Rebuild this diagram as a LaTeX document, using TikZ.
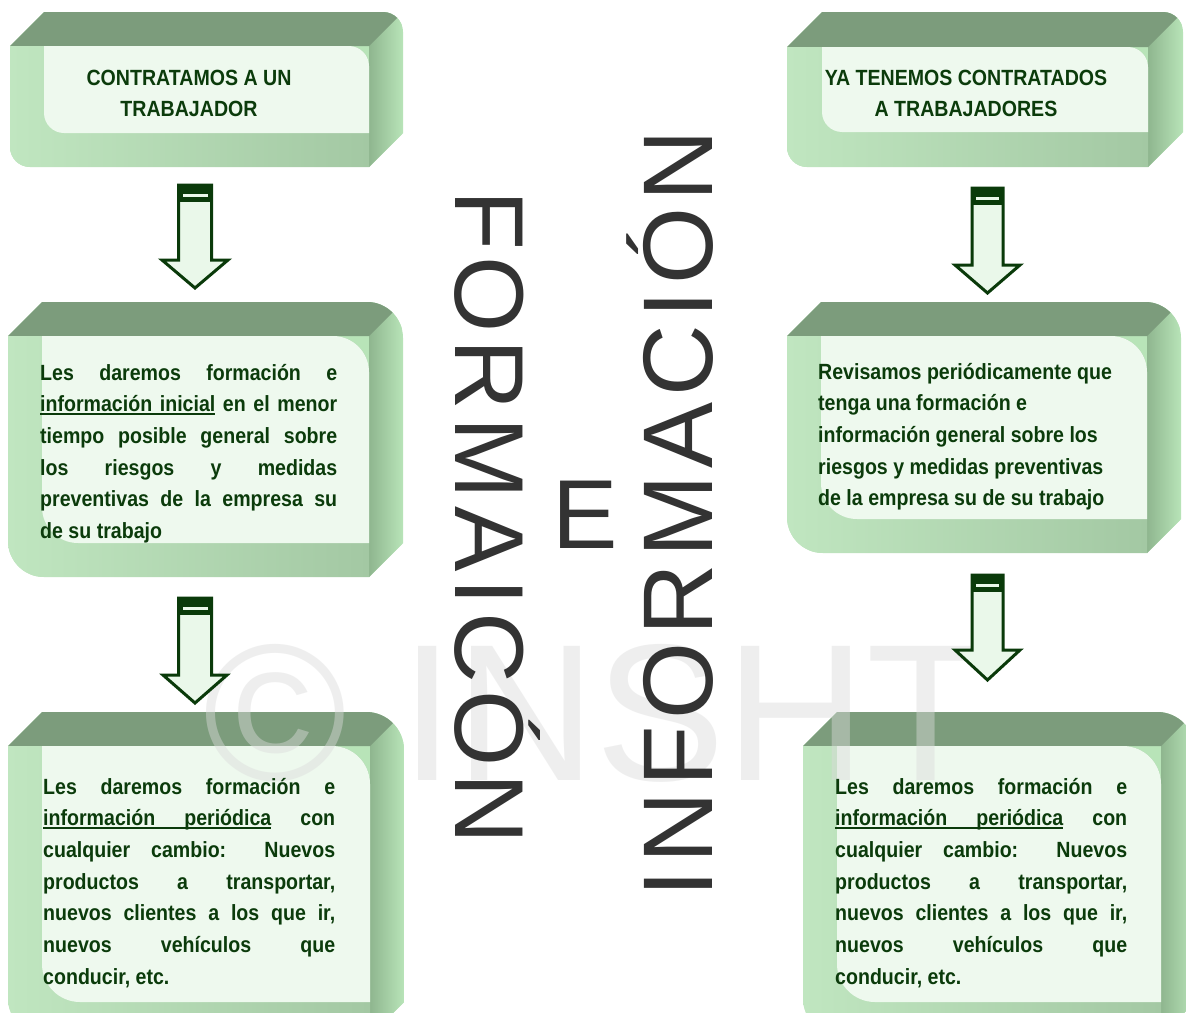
\documentclass[tikz,border=0pt]{standalone}
\usepackage{fontspec}
\setmainfont{Liberation Sans}
\newfontfamily\bodyfont{Liberation Sans}[FakeStretch=0.89]
\newfontfamily\vfont{Liberation Sans}[LetterSpace=7]
\newfontfamily\vfontb{Liberation Sans}[LetterSpace=6.5]
\usetikzlibrary{calc}
\definecolor{topface}{HTML}{7C9C7C}
\definecolor{sideL}{HTML}{8FB68F}
\definecolor{sideR}{HTML}{B8E4B8}
\definecolor{frontL}{HTML}{C0E6C0}
\definecolor{frontR}{HTML}{A3C8A3}
\definecolor{panelc}{HTML}{EEF9EE}
\definecolor{txtc}{HTML}{0B3B0B}
\definecolor{arrdark}{HTML}{0A3A0A}
\definecolor{arrfill}{HTML}{EAF8EA}
\definecolor{vtext}{HTML}{333333}
\newsavebox\ulbox
\newcommand\ulw[1]{\sbox\ulbox{#1}\rlap{\vrule height -1.6pt depth 3.4pt width \wd\ulbox}\usebox\ulbox}
\newcommand\ulsp{\leaders\hrule height -1.6pt depth 3.4pt\hskip\fontdimen2\font plus\fontdimen3\font minus\fontdimen4\font\relax}
\newcommand\jl[1]{\makebox[\linewidth][s]{#1}}
\newcommand\bodytxt{\bodyfont\bfseries\fontsize{22}{31.7}\selectfont}
\tikzset{boxtext/.style={inner sep=0,text=txtc}}
% 3D box: L T R B depth radius
\newcommand\tdbox[6]{%
  \pgfmathsetmacro\xa{#1+#5}\pgfmathsetmacro\ya{#2+#5}%
  \pgfmathsetmacro\xb{#3-#5}\pgfmathsetmacro\yb{#4-#5}%
  \pgfmathsetmacro\kk{0.4477*#6}%
  \begin{scope}
    \clip (#1,\ya) -- (\xa,#2) -- (#3-#6,#2) .. controls (#3-\kk,#2) and (#3,#2+\kk) .. (#3,#2+#6) -- (#3,\yb) -- (\xb,#4) -- (#1+#6,#4) .. controls (#1+\kk,#4) and (#1,#4-\kk) .. (#1,#4-#6) -- cycle;
    \fill[sideR] (#1,#2) rectangle (#3,#4);
    \shade[left color=sideL,right color=sideR] (\xb,#2) rectangle (#3,#4);
    \fill[topface] (#1-10,\ya) -- (#1-10,#2-10) -- (#3+10,#2-10) -- (\xb,\ya) -- cycle;
  \end{scope}
  \shade[left color=frontL,right color=frontR] (#1,\ya) -- (\xb-#6,\ya) .. controls (\xb-\kk,\ya) and (\xb,\ya+\kk) .. (\xb,\ya+#6) -- (\xb,#4) -- (#1+#6,#4) .. controls (#1+\kk,#4) and (#1,#4-\kk) .. (#1,#4-#6) -- cycle;
  \begin{scope}
    \clip (#1,\ya) -- (\xb-#6,\ya) .. controls (\xb-\kk,\ya) and (\xb,\ya+\kk) .. (\xb,\ya+#6) -- (\xb,#4) -- (#1,#4) -- cycle;
    \fill[panelc] (\xa,#2) -- (#3,#2) -- (#3,\yb) -- (\xa+#6,\yb) .. controls (\xa+\kk,\yb) and (\xa,\yb-\kk) .. (\xa,\yb-#6) -- cycle;
  \end{scope}}
% block arrow: name cx top headbase tip shafthalf headhalf
\newcommand\blockarrow[7]{%
  \coordinate (#1s) at (#2,#3);
  \coordinate (#1e) at (#2,#5);
  \fill[arrfill] (#2-#6,#3) -- (#2+#6,#3) -- (#2+#6,#4) -- (#2+#7,#4) -- (#1e) -- (#2-#7,#4) -- (#2-#6,#4) -- cycle;
  \fill[arrdark] (#2-#6,#3) rectangle (#2+#6,#3+17);
  \fill[arrfill] (#2-#6+4,#3+9) rectangle (#2+#6-4,#3+12);
  \draw[arrdark,line width=3pt,line join=miter] (#1s) -- (#2+#6,#3) -- (#2+#6,#4) -- (#2+#7,#4) -- (#1e) -- (#2-#7,#4) -- (#2-#6,#4) -- (#2-#6,#3) -- cycle;}
\begin{document}
\begin{tikzpicture}[x=1pt,y=-1pt]
\useasboundingbox (0,0) rectangle (1186,1012);
\clip (0,0) rectangle (1186,1012);
\fill[white] (0,0) rectangle (1186,1012);
% boxes
\tdbox{10}{12}{403}{167}{34}{20}
\tdbox{787}{12}{1183}{167}{35}{20}
\tdbox{8}{302}{403}{577}{34}{36}
\tdbox{787}{302}{1181}{553}{34}{36}
\tdbox{8}{712}{404}{1036}{34}{38}
\tdbox{803}{712}{1195}{1036}{34}{38}
% watermark
\node[anchor=base west,inner sep=0,text=black!14,opacity=0.45,font=\fontsize{195}{195}\selectfont] (wm) at (203,780) {© INSHT};
% box texts
\node[boxtext,anchor=base] (t1) at (189,85) {\parbox[t]{320pt}{\centering\bodyfont\bfseries\fontsize{22}{31}\selectfont CONTRATAMOS A UN\\TRABAJADOR}};
\node[boxtext,anchor=base] (t4) at (966,85) {\parbox[t]{340pt}{\centering\bodyfont\bfseries\fontsize{22}{31}\selectfont YA TENEMOS CONTRATADOS\\A TRABAJADORES}};
\node[boxtext,anchor=base west] (t2) at (40,380) {\parbox[t]{297pt}{\bodytxt
\jl{Les daremos formación e}\\
\jl{\ulw{información}\ulsp\ulw{inicial} en el menor}\\
\jl{tiempo posible general sobre}\\
\jl{los riesgos y medidas}\\
\jl{preventivas de la empresa su}\\
de su trabajo}};
\node[boxtext,anchor=base west] (t5) at (818,379) {\parbox[t]{310pt}{\bodytxt
Revisamos periódicamente que\\
tenga una formación e\\
información general sobre los\\
riesgos y medidas preventivas\\
de la empresa su de su trabajo}};
\node[boxtext,anchor=base west] (t3) at (43,794) {\parbox[t]{292pt}{\bodytxt
\jl{Les daremos formación e}\\
\jl{\ulw{información}\ulsp\ulw{periódica} con}\\
\jl{cualquier cambio: Nuevos}\\
\jl{productos a transportar,}\\
\jl{nuevos clientes a los que ir,}\\
\jl{nuevos vehículos que}\\
conducir, etc.}};
\node[boxtext,anchor=base west] (t6) at (835,794) {\parbox[t]{292pt}{\bodytxt
\jl{Les daremos formación e}\\
\jl{\ulw{información}\ulsp\ulw{periódica} con}\\
\jl{cualquier cambio: Nuevos}\\
\jl{productos a transportar,}\\
\jl{nuevos clientes a los que ir,}\\
\jl{nuevos vehículos que}\\
conducir, etc.}};
% arrows
\blockarrow{a1}{195}{185}{260}{288}{16.5}{33}
\blockarrow{a2}{195}{598}{675}{703}{16.5}{32}
\blockarrow{a3}{987.5}{188}{265}{293}{15.5}{32.5}
\blockarrow{a4}{987.5}{575}{650}{680}{15.5}{32.5}
% vertical titles
\node[rotate=-90,anchor=base west,inner sep=0,text=vtext,font={\vfont\fontsize{98}{98}\selectfont}] (v1) at (455,190) {FORMAICÓN};
\node[rotate=90,anchor=base west,inner sep=0,text=vtext,font={\vfontb\fontsize{99}{99}\selectfont}] (v2) at (712,898) {INFORMACIÓN};
\node[rotate=0,anchor=base west,inner sep=0,text=vtext,font={\fontsize{98}{98}\selectfont}] (ve) at (552,548) {E};
\end{tikzpicture}
\end{document}
